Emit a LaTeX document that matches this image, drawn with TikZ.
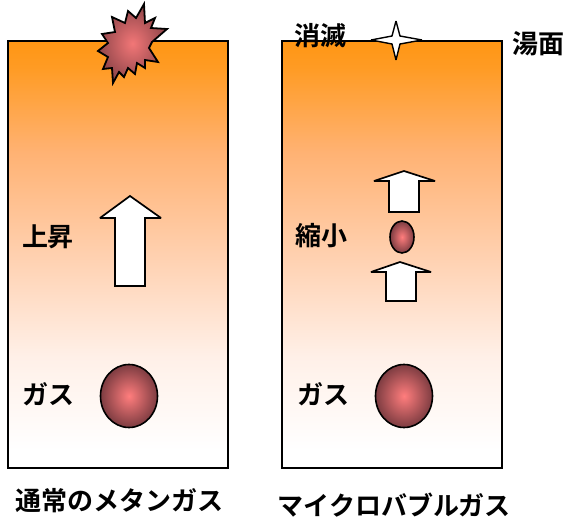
\documentclass[tikz,border=0pt]{standalone}
\usepackage{fontspec}
\setmainfont{Noto Sans CJK JP Bold}
\definecolor{ballcore}{RGB}{255,125,125}
\definecolor{ballrim}{RGB}{125,60,65}
\definecolor{meltA}{RGB}{255,150,20}
\definecolor{meltB}{RGB}{255,155,35}
\definecolor{meltC}{RGB}{255,178,115}
\definecolor{meltD}{RGB}{255,208,175}
\definecolor{meltE}{RGB}{255,240,232}
% vertical fade of the melt: the path covers the range 25bp to 75bp
\pgfdeclareverticalshading{meltfade}{100bp}{
  color(0bp)=(white);
  color(27bp)=(white);
  color(38bp)=(meltE);
  color(50bp)=(meltD);
  color(62bp)=(meltC);
  color(72bp)=(meltB);
  color(75bp)=(meltA);
  color(100bp)=(meltA)}
\tikzset{
  tank/.style={draw=black,line width=1.7pt,shading=meltfade},
  gasball/.style={draw=black,line width=1.6pt,inner color=ballcore,outer color=ballrim},
  risearrow/.style={draw=black,line width=1.7pt,fill=white,line join=miter,miter limit=3},
  burst/.style={draw=black,line width=1.8pt,line join=miter,inner color=ballcore!90!ballrim,outer color=ballrim!85!ballcore},
  label/.style={inner sep=0pt,font=\fontsize{26}{26}\selectfont},
  caption/.style={inner sep=0pt,font=\fontsize{26}{26}\selectfont}
}
\begin{document}
\begin{tikzpicture}[x=1pt,y=-1pt]
\useasboundingbox (0,0) rectangle (563,525);

% tanks
\path[tank] (8,41) rectangle (228,468);
\path[tank] (282,41) rectangle (502,468);

% ordinary gas: bursting bubble at the surface
\path[burst] (144,4) -- (136,18) -- (128,11) -- (125,23) -- (112,17) -- (115,32) -- (102,34)
  -- (108,43) -- (98,51) -- (108,57) -- (103,69) -- (112,68) -- (113,83) -- (119,72)
  -- (124,77) -- (128,68) -- (135,74) -- (137,63) -- (145,68) -- (145,60) -- (158,62)
  -- (149,48) -- (152,42) -- (167,29) -- (151,28) -- (155,18) -- (145,23) -- cycle;

% ordinary gas: rising arrow
\path[risearrow] (130,196) -- (161,218) -- (145,218) -- (145,286) -- (115,286) -- (115,218) -- (100,218) -- cycle;

% microbubble: vanishing sparkle at the surface
\path[draw=black,line width=1.4pt,fill=white,miter limit=3] (396,21) -- (400,36) -- (422,40) -- (400,44) -- (396,60)
  -- (392,44) -- (371,40) -- (392,36) -- cycle;

% microbubble: arrows and shrinking bubble
\path[risearrow] (404,171) -- (435,181) -- (419,181) -- (419,212) -- (389,212) -- (389,181) -- (374,181) -- cycle;
\path[risearrow] (400,262) -- (431,272) -- (416,272) -- (416,301) -- (386,301) -- (386,272) -- (371,272) -- cycle;
\path[gasball] (402,237) ellipse [x radius=12,y radius=16];

% gas bubbles at the bottom
\path[gasball] (129,396) ellipse [x radius=28.5,y radius=31.5];
\path[gasball] (404,396) ellipse [x radius=28.5,y radius=31.5];

% labels
\node[label] (rise) at (48,237) {上昇};
\node[label] (gasa) at (49,394) {ガス};
\node[label] (gasb) at (323,394) {ガス};
\node[label] (shrink) at (321,236) {縮小};
\node[label] (vanish) at (320,36) {消滅};
\node[label] (surf) at (538,44) {湯面};
\node[caption] (capa) at (120,501) {通常のメタンガス};
\node[caption] (capb) at (394,505) {マイクロバブルガス};
\end{tikzpicture}
\end{document}
